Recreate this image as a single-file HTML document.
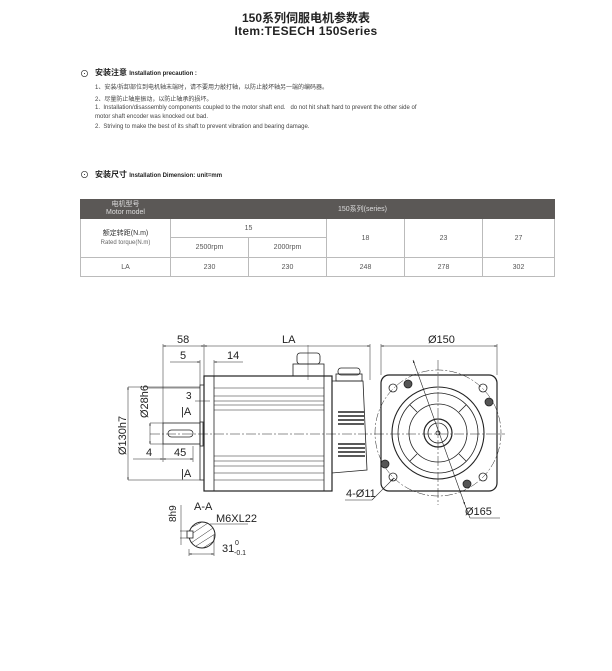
<!DOCTYPE html>
<html><head><meta charset="utf-8">
<style>
body{margin:0;background:#fff;width:612px;height:671px;position:relative;overflow:hidden;font-family:"Liberation Sans","Noto Sans CJK SC",sans-serif;color:#222}
.a{position:absolute;white-space:nowrap}
table{position:absolute;left:80px;top:199px;border-collapse:collapse;font-size:7px;color:#555}
td{border:1px solid #bbb;text-align:center;padding:0}
</style></head><body>
<div class="a" style="left:0;width:612px;text-align:center;top:9px;font-size:12px;font-weight:bold">150系列伺服电机参数表</div>
<div class="a" style="left:0;width:612px;text-align:center;top:24px;font-size:12px;font-weight:bold;letter-spacing:0.3px">Item:TESECH 150Series</div>

<div class="a" style="left:80px;top:67px;font-size:9px">⊙</div>
<div class="a" style="left:95px;top:67px;font-size:8px;font-weight:bold">安装注意 <span style="font-size:6px">Installation precaution :</span></div>
<div class="a" style="left:95px;top:82px;font-size:6px;color:#444">1、安装/拆卸部位到电机轴末端时，请不要用力敲打轴，以防止敲坏轴另一端的编码器。</div>
<div class="a" style="left:95px;top:94px;font-size:6px;color:#444">2、尽量防止轴座振动，以防止轴承的损坏。</div>
<div class="a" style="left:95px;top:105px;font-size:6px;color:#444">1.&nbsp; Installation/disassembly components coupled to the motor shaft end.&nbsp;&nbsp; do not hit shaft hard to prevent the other side of</div>
<div class="a" style="left:95px;top:114px;font-size:6px;color:#444">motor shaft encoder was knocked out bad.</div>
<div class="a" style="left:95px;top:124px;font-size:6px;color:#444">2.&nbsp; Striving to make the best of its shaft to prevent vibration and bearing damage.</div>

<div class="a" style="left:80px;top:168px;font-size:9px">⊙</div>
<div class="a" style="left:95px;top:169px;font-size:8px;font-weight:bold">安装尺寸 <span style="font-size:6px">Installation Dimension: unit=mm</span></div>

<table>
<tr style="height:19px;background:#5b5856;color:#ddd"><td style="width:89px;border-color:#5b5856;line-height:8px">电机型号<br>Motor model</td><td colspan="5" style="border-color:#5b5856">150系列(series)</td></tr>
<tr style="height:19px"><td rowspan="2" style="line-height:9px;color:#333">额定转距(N.m)<br><span style="font-size:6px;color:#666">Rated torque(N.m)</span></td><td colspan="2">15</td><td rowspan="2" style="width:77px">18</td><td rowspan="2" style="width:77px">23</td><td rowspan="2" style="width:71px">27</td></tr>
<tr style="height:20px"><td style="width:77px">2500rpm</td><td style="width:77px">2000rpm</td></tr>
<tr style="height:19px"><td>LA</td><td>230</td><td>230</td><td>248</td><td>278</td><td>302</td></tr>
</table>

<svg class="a" style="left:0;top:0" width="612" height="671" viewBox="0 0 612 671" font-family="Liberation Sans Narrow, Liberation Sans, sans-serif" font-size="10" fill="none" stroke="#222" stroke-width="0.8">
<defs><marker id="ar" viewBox="0 0 10 10" refX="10" refY="5" markerWidth="5" markerHeight="5" orient="auto-start-reverse"><path d="M0 2 L10 5 L0 8 Z" fill="#222" stroke="none"/></marker></defs>
<line x1="150" y1="434" x2="505" y2="434" stroke-dasharray="10 2 2 2" stroke-width="0.5"/>
<line x1="438" y1="360" x2="438" y2="505" stroke-dasharray="10 2 2 2" stroke-width="0.5"/>
<rect x="163" y="423" width="37" height="21"/>
<rect x="168" y="430" width="25" height="7" rx="3.5"/>
<rect x="200" y="422" width="3" height="24"/>
<rect x="200" y="385" width="4" height="95"/>
<rect x="204" y="376" width="128" height="115" stroke-width="1.2"/>
<line x1="214" y1="376" x2="214" y2="491"/>
<line x1="324" y1="376" x2="324" y2="491"/>
<g stroke-width="0.6">
<line x1="214" y1="388" x2="324" y2="388"/><line x1="214" y1="396" x2="324" y2="396"/><line x1="214" y1="401" x2="324" y2="401"/><line x1="214" y1="405" x2="324" y2="405"/><line x1="214" y1="410" x2="324" y2="410"/>
<line x1="214" y1="456" x2="324" y2="456"/><line x1="214" y1="461" x2="324" y2="461"/><line x1="214" y1="466" x2="324" y2="466"/><line x1="214" y1="473" x2="324" y2="473"/><line x1="214" y1="480" x2="324" y2="480"/>
</g>
<path d="M332 381 L363 381 L367 470 L332 473 Z"/>
<g stroke-width="1.4"><line x1="338" y1="412" x2="364" y2="412"/><line x1="338" y1="416" x2="364" y2="416"/><line x1="338" y1="420" x2="364" y2="420"/><line x1="338" y1="424" x2="364" y2="424"/><line x1="338" y1="444" x2="365" y2="444"/><line x1="338" y1="448" x2="365" y2="448"/><line x1="338" y1="452" x2="365" y2="452"/><line x1="338" y1="456" x2="365" y2="456"/></g>
<rect x="293" y="364" width="31" height="12"/><rect x="297" y="353" width="23" height="11" rx="3"/>
<rect x="336" y="374" width="26" height="7"/><rect x="338" y="368" width="22" height="7" rx="3"/>
<line x1="308" y1="345" x2="308" y2="380" stroke-width="0.4"/>
<g stroke-width="0.5">
<line x1="163" y1="344" x2="163" y2="423"/><line x1="204" y1="344" x2="204" y2="376"/><line x1="370" y1="344" x2="370" y2="380"/>
<line x1="163" y1="346" x2="204" y2="346" marker-start="url(#ar)" marker-end="url(#ar)"/><line x1="204" y1="346" x2="370" y2="346" marker-start="url(#ar)" marker-end="url(#ar)"/>
<line x1="170" y1="362" x2="200" y2="362" marker-end="url(#ar)"/><line x1="243" y1="362" x2="214" y2="362" marker-end="url(#ar)"/>
<line x1="200" y1="360" x2="200" y2="385"/><line x1="214" y1="360" x2="214" y2="376"/>
<line x1="381" y1="344" x2="381" y2="375"/><line x1="497" y1="344" x2="497" y2="375"/><line x1="381" y1="346" x2="497" y2="346" marker-start="url(#ar)" marker-end="url(#ar)"/>
<line x1="128" y1="387" x2="200" y2="387"/><line x1="128" y1="480" x2="200" y2="480"/><line x1="128" y1="387" x2="128" y2="480" marker-start="url(#ar)" marker-end="url(#ar)"/>
<line x1="148" y1="388" x2="200" y2="388"/><line x1="150" y1="423" x2="163" y2="423"/><line x1="150" y1="444" x2="163" y2="444"/><line x1="150" y1="423" x2="150" y2="444" marker-start="url(#ar)" marker-end="url(#ar)"/>
<line x1="133" y1="459" x2="163" y2="459" marker-end="url(#ar)"/><line x1="163" y1="459" x2="193" y2="459" marker-start="url(#ar)" marker-end="url(#ar)"/><line x1="163" y1="444" x2="163" y2="462"/><line x1="193" y1="446" x2="193" y2="462"/>
<line x1="195" y1="401" x2="210" y2="401"/>
</g>
<g fill="#222" stroke="none" font-size="11">
<text x="177" y="343">58</text><text x="282" y="343">LA</text><text x="428" y="343">Ø150</text>
<text x="180" y="359">5</text><text x="227" y="359">14</text>
<text x="186" y="399" font-size="10">3</text>
<text x="181" y="415">|A</text><text x="181" y="477">|A</text>
<text x="146" y="456">4</text><text x="174" y="456">45</text>
<text transform="translate(148,418) rotate(-90)">Ø28h6</text>
<text transform="translate(126,455) rotate(-90)">Ø130h7</text>
<text x="346" y="497">4-Ø11</text><text x="465" y="515">Ø165</text>
<text x="194" y="510">A-A</text><text x="216" y="522">M6XL22</text>
<text transform="translate(176,522) rotate(-90)" font-size="10">8h9</text>
<text x="222" y="552">31</text><text x="235" y="545" font-size="7">0</text><text x="234" y="555" font-size="7">-0.1</text>
</g>
<rect x="381" y="375" width="116" height="116" rx="8" stroke-width="1.2"/>
<circle cx="438" cy="433" r="63" stroke-dasharray="8 2 2 2" stroke-width="0.5"/>
<circle cx="438" cy="433" r="46" stroke-width="1.1"/>
<circle cx="438" cy="433" r="40"/>
<circle cx="438" cy="433" r="29"/>
<circle cx="438" cy="433" r="14" stroke-width="1.2"/>
<circle cx="438" cy="433" r="10"/>
<circle cx="438" cy="433" r="2"/>
<g stroke-width="0.8"><line x1="410" y1="405" x2="417" y2="412"/><line x1="466" y1="405" x2="459" y2="412"/><line x1="410" y1="461" x2="417" y2="454"/><line x1="466" y1="461" x2="459" y2="454"/></g>
<g><circle cx="393" cy="388" r="4"/><circle cx="483" cy="388" r="4"/><circle cx="393" cy="477" r="4"/><circle cx="483" cy="477" r="4"/></g>
<g fill="#555"><circle cx="408" cy="384" r="4"/><circle cx="489" cy="402" r="4"/><circle cx="385" cy="464" r="4"/><circle cx="467" cy="484" r="4"/></g>
<line x1="413" y1="360" x2="465" y2="505" stroke-width="0.6" marker-start="url(#ar)" marker-end="url(#ar)"/>
<line x1="465" y1="505" x2="470" y2="518" stroke-width="0.6"/><line x1="470" y1="518" x2="500" y2="518" stroke-width="0.6"/>
<line x1="372" y1="500" x2="394" y2="478" stroke-width="0.6" marker-end="url(#ar)"/><line x1="345" y1="500" x2="372" y2="500" stroke-width="0.6"/>
<circle cx="202" cy="535" r="13" stroke-width="1"/>
<g stroke-width="0.5"><line x1="192" y1="527" x2="202" y2="522"/><line x1="190" y1="535" x2="208" y2="523"/><line x1="191" y1="543" x2="213" y2="528"/><line x1="196" y1="546" x2="215" y2="534"/><line x1="203" y1="548" x2="214" y2="541"/></g>
<rect x="187" y="531" width="6" height="7" fill="#fff"/>
<g stroke-width="0.5"><line x1="180" y1="531" x2="187" y2="531"/><line x1="180" y1="538" x2="187" y2="538"/><line x1="181" y1="505" x2="181" y2="545"/>
<line x1="189" y1="549" x2="189" y2="556"/><line x1="214" y1="535" x2="214" y2="556"/><line x1="189" y1="554" x2="214" y2="554" marker-start="url(#ar)" marker-end="url(#ar)"/>
<line x1="210" y1="524" x2="248" y2="524"/></g>
</svg>
</body></html>
